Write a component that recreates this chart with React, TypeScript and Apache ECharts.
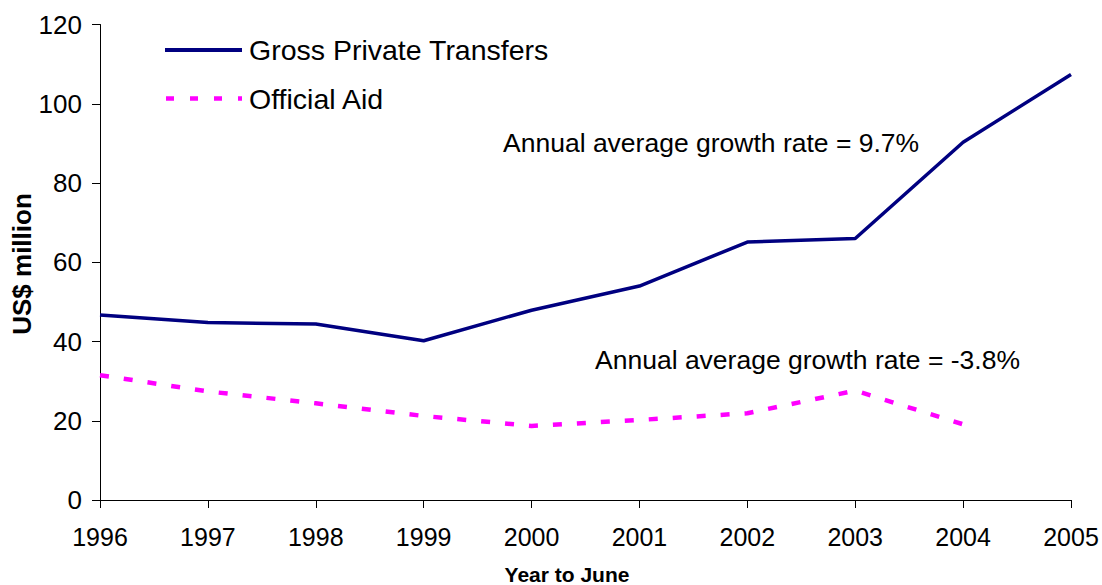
import React, { useEffect, useRef } from "react";
import * as echarts from "echarts";

const years = ["1996", "1997", "1998", "1999", "2000", "2001", "2002", "2003", "2004", "2005"];
const grossPrivateTransfers = [46.7, 44.8, 44.4, 40.2, 47.9, 54.0, 65.1, 66.0, 90.3, 107.4];
const officialAid: (number | null)[] = [31.5, 27.4, 24.4, 21.2, 18.7, 20.2, 21.9, 27.6, 19.1, null];
const yTicks = { min: 0, max: 120, interval: 20 };
const seriesNames = ["Gross Private Transfers", "Official Aid"];
const annotations = ["Annual average growth rate = 9.7%", "Annual average growth rate = -3.8%"];
const axisTitles = { x: "Year to June", y: "US$ million" };

const FONT = "'Liberation Sans', Arial, Helvetica, sans-serif";
const NAVY = "#000080";
const MAGENTA = "#FF00FF";

export default function App() {
  const ref = useRef<HTMLDivElement>(null);
  useEffect(() => {
    document.body.style.margin = "0";
    if (!ref.current) return;
    const chart = echarts.init(ref.current, undefined, { renderer: "svg" });
    chart.setOption({
      animation: false,
      backgroundColor: "#ffffff",
      textStyle: { fontFamily: FONT },
      grid: { left: 100, right: 31, top: 24.5, bottom: 85, containLabel: false },
      xAxis: {
        type: "category",
        data: years,
        boundaryGap: false,
        axisLine: { show: true, lineStyle: { color: "#000", width: 1 } },
        axisTick: { show: true, alignWithLabel: true, length: 8, lineStyle: { color: "#000" } },
        axisLabel: { color: "#000", fontSize: 25, fontFamily: FONT, margin: 24, interval: 0 },
        splitLine: { show: false },
      },
      yAxis: {
        type: "value",
        min: yTicks.min,
        max: yTicks.max,
        interval: yTicks.interval,
        axisLine: { show: true, lineStyle: { color: "#000", width: 1 } },
        axisTick: { show: true, length: 8, lineStyle: { color: "#000" } },
        axisLabel: { color: "#000", fontSize: 26, fontFamily: FONT, margin: 18 },
        splitLine: { show: false },
      },
      series: [
        {
          name: seriesNames[0],
          type: "line",
          data: grossPrivateTransfers,
          symbol: "none",
          lineStyle: { color: NAVY, width: 3.5 },
          z: 3,
        },
        {
          name: seriesNames[1],
          type: "line",
          data: officialAid,
          symbol: "none",
          connectNulls: false,
          lineStyle: { color: MAGENTA, width: 4.5, type: [9, 15] },
          z: 2,
        },
      ],
      graphic: [
        {
          type: "line",
          shape: { x1: 165, y1: 50, x2: 242, y2: 50 },
          style: { stroke: NAVY, lineWidth: 4 },
        },
        {
          type: "text",
          x: 249,
          y: 50,
          style: { text: seriesNames[0], fontSize: 28.5, fontFamily: FONT, fill: "#000", align: "left", verticalAlign: "middle" },
        },
        {
          type: "line",
          shape: { x1: 166, y1: 98.5, x2: 242, y2: 98.5 },
          style: { stroke: MAGENTA, lineWidth: 4.5, lineDash: [8, 16] },
        },
        {
          type: "text",
          x: 249,
          y: 99,
          style: { text: seriesNames[1], fontSize: 28.5, fontFamily: FONT, fill: "#000", align: "left", verticalAlign: "middle" },
        },
        {
          type: "text",
          x: 503,
          y: 143,
          style: { text: annotations[0], fontSize: 26.5, fontFamily: FONT, fill: "#000", align: "left", verticalAlign: "middle" },
        },
        {
          type: "text",
          x: 595,
          y: 360,
          style: { text: annotations[1], fontSize: 26.5, fontFamily: FONT, fill: "#000", align: "left", verticalAlign: "middle" },
        },
        {
          type: "text",
          x: 567,
          y: 574,
          style: { text: axisTitles.x, fontSize: 21, fontWeight: "bold", fontFamily: FONT, fill: "#000", align: "center", verticalAlign: "middle" },
        },
        {
          type: "text",
          x: 22,
          y: 264,
          rotation: Math.PI / 2,
          style: { text: axisTitles.y, fontSize: 26, fontWeight: "bold", fontFamily: FONT, fill: "#000", align: "center", verticalAlign: "middle" },
        },
      ],
    });
    return () => chart.dispose();
  }, []);
  return <div ref={ref} style={{ position: "absolute", left: 0, top: 0, width: 1102, height: 585 }} />;
}
